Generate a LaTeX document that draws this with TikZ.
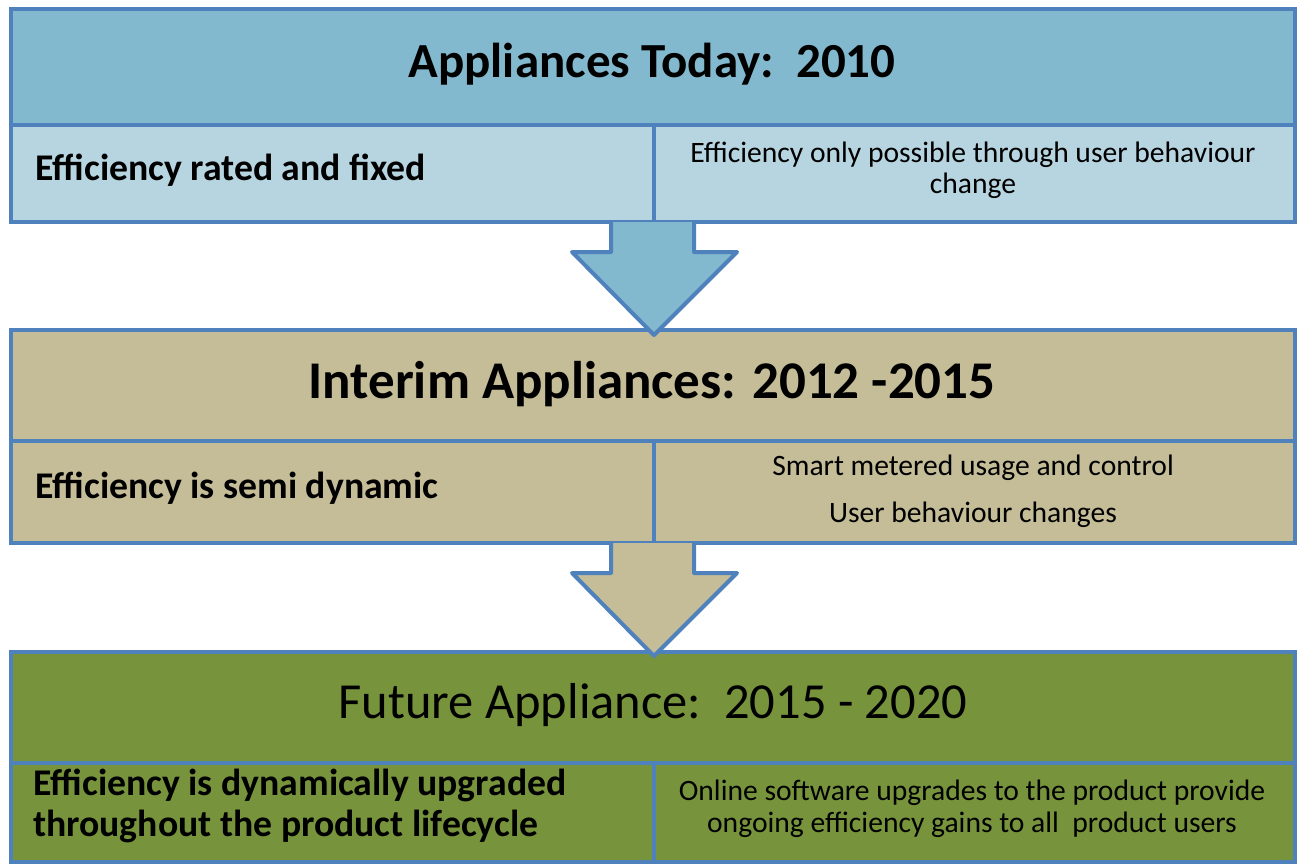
\documentclass[tikz,border=0pt]{standalone}
\usepackage{fontspec}
\setmainfont{Carlito}
\definecolor{bordc}{RGB}{79,129,189}
\definecolor{bluehd}{RGB}{131,185,206}
\definecolor{bluelt}{RGB}{183,213,224}
\definecolor{tanc}{RGB}{196,189,151}
\definecolor{greenc}{RGB}{119,147,60}
\begin{document}
\begin{tikzpicture}[x=1pt,y=-1pt,
  cell/.style={draw=bordc,line width=4pt,inner sep=0pt,outer sep=0pt},
  title/.style={font=\fontsize{49}{55}\selectfont\bfseries},
  lefttxt/.style={anchor=west,align=left,font=\fontsize{37.7}{41}\selectfont\bfseries,inner sep=0pt},
  righttxt/.style={align=center,font=\fontsize{29.6}{31}\selectfont,inner sep=0pt},
  blockarrow/.style={draw=bordc,line width=4pt,line join=round}
]
\useasboundingbox (0,0) rectangle (1297,865);

% Box 1
\node[cell,fill=bluehd,minimum width=1284pt,minimum height=116pt] (h1) at (653,67) {};
\node[cell,fill=bluelt,minimum width=643pt,minimum height=97pt] (l1) at (332.5,173.5) {};
\node[cell,fill=bluelt,minimum width=641pt,minimum height=97pt] (r1) at (974.5,173.5) {};
\node[title] (t1) at (652,64) {Appliances Today:\ \ 2010};
\node[lefttxt] (lt1) at (35,170) {Efficiency rated and fixed};
\node[righttxt] (rt1) at (973,170) {Efficiency only possible through user behaviour\\change};

% Box 2
\node[cell,fill=tanc,minimum width=1284pt,minimum height=111pt] (h2) at (653,385.5) {};
\node[cell,fill=tanc,minimum width=643pt,minimum height=102pt] (l2) at (332.5,492) {};
\node[cell,fill=tanc,minimum width=641pt,minimum height=102pt] (r2) at (974.5,492) {};
\node[title,font=\fontsize{53}{59}\selectfont\bfseries] (t2) at (652,384) {Interim Appliances: 2012 -2015};
\node[lefttxt] (lt2) at (35,488) {Efficiency is semi dynamic};
\node[righttxt,font=\fontsize{29.6}{47}\selectfont] (rt2) at (973,491) {Smart metered usage and control\\User behaviour changes};

% Box 3
\node[cell,fill=greenc,minimum width=1284pt,minimum height=111pt] (h3) at (653,707.5) {};
\node[cell,fill=greenc,minimum width=643pt,minimum height=99pt] (l3) at (332.5,812.5) {};
\node[cell,fill=greenc,minimum width=641pt,minimum height=99pt] (r3) at (974.5,812.5) {};
\node[title,font=\fontsize{50.5}{56}\selectfont] (t3) at (653,705) {Future Appliance:\ \ 2015 - 2020};
\node[lefttxt] (lt3) at (33,806) {Efficiency is dynamically upgraded\\throughout the product lifecycle};
\node[righttxt,font=\fontsize{29.6}{32}\selectfont] (rt3) at (972,809) {Online software upgrades to the product provide\\ongoing efficiency gains to all\ \ product users};

% Arrows
\draw[blockarrow,fill=bluehd] (611,222) -- (611,252) -- (572,252) -- (654,335) -- (737,252) -- (694,252) -- (694,222);
\draw[blockarrow,fill=tanc] (611,543) -- (611,573) -- (572,573) -- (654,656) -- (737,573) -- (694,573) -- (694,543);
\end{tikzpicture}
\end{document}
